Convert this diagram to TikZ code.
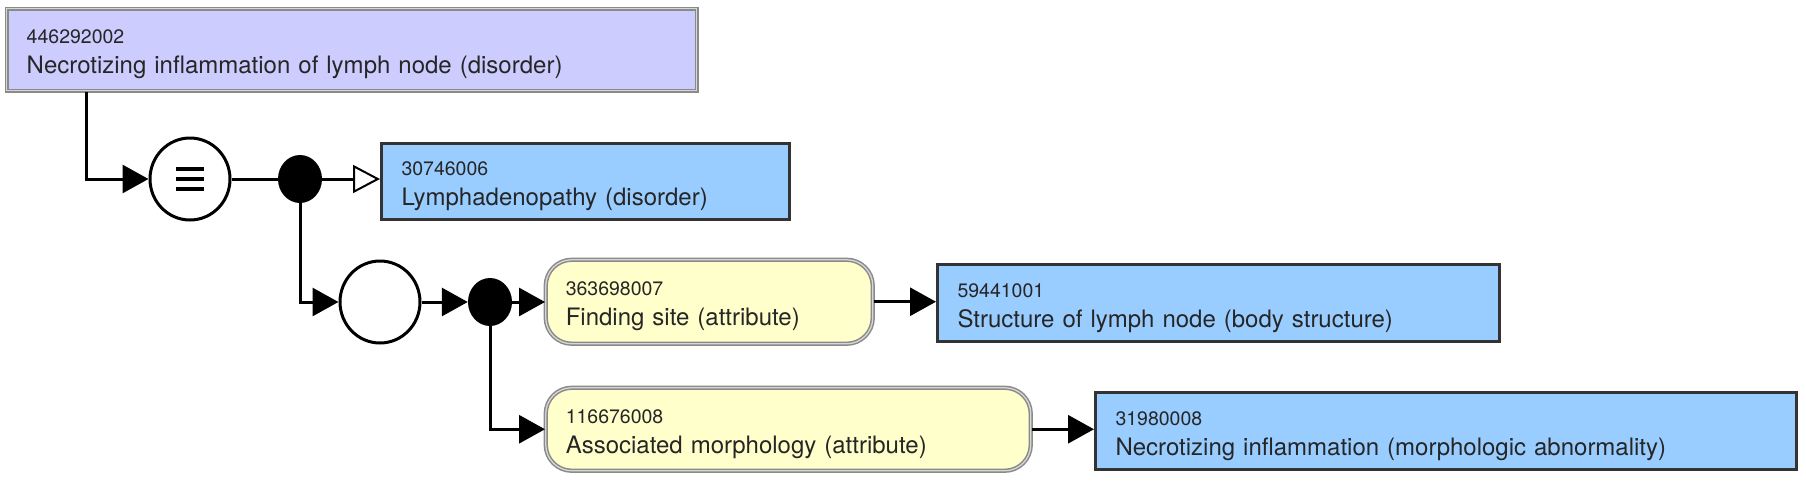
\documentclass[tikz,border=0pt]{standalone}
\usepackage{fontspec}
\setmainfont{TeX Gyre Heros}
\usetikzlibrary{arrows.meta,calc,shapes.geometric}
\definecolor{lav}{HTML}{CCCCFF}
\definecolor{sky}{HTML}{99CCFF}
\definecolor{cream}{HTML}{FFFFCC}
\definecolor{edgec}{HTML}{333333}
\definecolor{dblout}{HTML}{8A8A8A}
\definecolor{dblin}{HTML}{D6D6D6}
\newcommand\codetxt{\fontsize{19.5}{30}\selectfont}
\newcommand\maintxt{\fontsize{24}{30}\selectfont}
% style, name, x1, y1, x2, y2, code, main
\newcommand\cbox[8]{%
  \pgfmathsetmacro\bw{#5-#3}%
  \pgfmathsetmacro\bh{#6-#4}%
  \pgfmathsetmacro\tw{#5-#3-40}%
  \node[#1, anchor=north west, minimum width=\bw pt, minimum height=\bh pt,
        text width=\tw pt] (#2) at (#3,#4)
        {{\codetxt\rule{0pt}{28pt}#7}\\{\maintxt #8\rule[-10pt]{0pt}{10pt}}};}
\tikzset{
  basebox/.style={align=left, inner xsep=20pt, inner ysep=0pt, font=\maintxt, text=black!85},
  topbox/.style={basebox, fill=lav, draw=dblout, double=dblin, line width=1.5pt, double distance=1.3pt},
  concept/.style={basebox, fill=sky, draw=edgec, line width=3pt},
  attrbox/.style={basebox, fill=cream, draw=dblout, double=dblin, line width=1.5pt, double distance=1.3pt, rounded corners=26pt},
  opcircle/.style={ellipse, draw=black, line width=3pt, fill=white, minimum width=80pt, minimum height=82pt, inner sep=0pt},
  dotnode/.style={ellipse, fill=black, minimum width=44pt, minimum height=48pt, inner sep=0pt},
  conn/.style={line width=3pt, black},
  arr/.style={conn, -{Triangle[length=26pt, width=28pt]}},
  openarr/.style={conn, -{Triangle[open, length=27pt, width=28pt, fill=white, line width=2pt]}},
  bar/.style={line width=4pt, black}
}
\begin{document}
\begin{tikzpicture}[x=1pt, y=-1pt]
\useasboundingbox (0,0) rectangle (1806,482);
\cbox{topbox}{top}{6}{8}{696}{90}{446292002}{Necrotizing inflammation of lymph node (disorder)}
\cbox{concept}{lymph}{380}{142}{788}{218}{30746006}{Lymphadenopathy (disorder)}
\cbox{attrbox}{a1}{545}{259}{872}{343}{363698007}{Finding site (attribute)}
\cbox{concept}{b2}{936}{263}{1498}{340}{59441001}{Structure of lymph node (body structure)}
\cbox{attrbox}{a2}{545}{387}{1030}{470}{116676008}{Associated morphology (attribute)}
\cbox{concept}{b3}{1094}{391}{1795}{468}{31980008}{Necrotizing inflammation (morphologic abnormality)}

\node[opcircle] (eq) at (190,179) {};
\foreach \dy in {-10,0,10}
  \draw[bar] ($(eq.center)+(-14,\dy)$) -- ++(28,0);
\node[dotnode] (d1) at (300,179) {};
\node[opcircle] (c2) at (380,302) {};
\node[dotnode] (d2) at (490,302) {};

\coordinate (c0) at ($(top.south west)+(80,0)$);
\draw[arr] (c0) |- (eq);
\draw[conn] (eq) -- (d1);
\draw[openarr] (d1) -- (d1 -| lymph.west);
\draw[arr] (d1) |- (c2);
\draw[arr] (c2) -- (d2);
\draw[arr] (d2) -- (d2 -| a1.west);
\draw[arr] (d2) |- (a2);
\draw[arr] (a1.east) -- (a1.east -| b2.west);
\draw[arr] (a2.east) -- (a2.east -| b3.west);
\end{tikzpicture}
\end{document}
